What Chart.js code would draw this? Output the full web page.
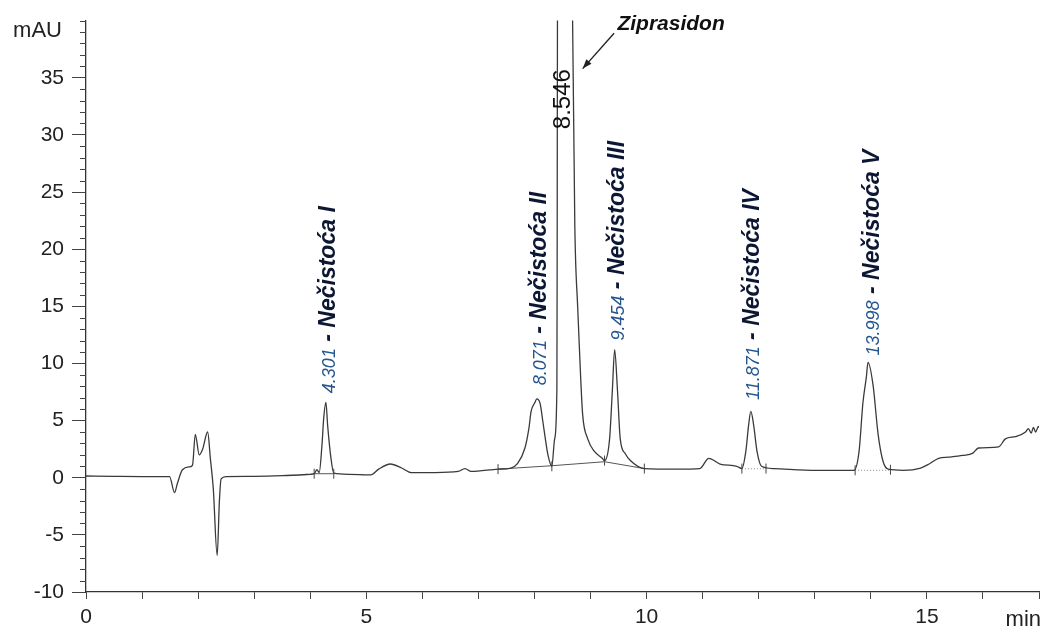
<!DOCTYPE html>
<html>
<head>
<meta charset="utf-8">
<script src="https://cdn.jsdelivr.net/npm/chart.js@4.4.1/dist/chart.umd.min.js"></script>
<style>
  html, body { margin: 0; padding: 0; background: #fff; }
  canvas { display: block; }
</style>
</head>
<body>
<canvas id="chroma" width="1045" height="628"></canvas>
<script>
// chromatogram trace (min / mAU)
const traceTime = [0, 0.5, 1.0, 1.49, 1.58, 1.63, 1.72, 1.85, 1.90, 1.95, 2.02, 2.08, 2.17, 2.22, 2.27, 2.34, 2.38, 2.41, 2.50,
  3.0, 3.5, 4.0, 4.07, 4.12, 4.16, 4.21, 4.24, 4.28, 4.31, 4.37, 4.42, 4.69, 5.08, 5.22, 5.43, 5.63, 5.80, 6.23, 6.64, 6.76, 6.87,
  7.35, 7.58, 7.70, 7.83, 7.90, 7.94, 8.01, 8.04, 8.10, 8.15, 8.20, 8.24, 8.31, 8.36, 8.40, 8.405, 8.41, 8.546, 8.68, 8.72, 8.77,
  8.82, 8.86, 8.95, 9.07, 9.21, 9.25, 9.34, 9.39, 9.43, 9.48, 9.53, 9.62, 9.71, 9.96, 10.54, 10.95, 11.11, 11.31, 11.61,
  11.70, 11.77, 11.82, 11.86, 11.91, 11.97, 12.05, 12.27, 13.03, 13.70, 13.79, 13.86, 13.92, 13.95, 14.04, 14.13, 14.22, 14.31,
  14.58, 14.89, 15.04, 15.21, 15.39, 15.64, 15.82, 15.92, 16.28, 16.40, 16.58, 16.76, 16.81, 16.86, 16.90, 16.94, 16.99, 17.0];
const traceAbs = [0.15, 0.12, 0.1, 0.1, -1.3, -0.5, 0.7, 0.95, 1.1, 3.8, 2.0, 2.5, 4.0, 1.6, -0.9, -6.8, -2.0, -0.1, 0.1,
  0.12, 0.18, 0.3, 0.35, 0.7, 0.45, 2.9, 5.2, 6.6, 4.6, 1.7, 0.4, 0.3, 0.25, 0.75, 1.2, 0.85, 0.45, 0.45, 0.55, 0.8, 0.55,
  0.75, 0.85, 1.25, 2.6, 4.3, 5.8, 6.6, 6.9, 6.5, 4.9, 3.2, 2.0, 1.0, 3.4, 7.8, 20, 40, 62, 40, 22, 15,
  9.2, 5.5, 3.4, 2.3, 1.7, 1.5, 3.4, 7.7, 11.2, 7.7, 3.4, 2.1, 1.5, 0.8, 0.75, 0.8, 1.7, 1.2, 1.0,
  0.8, 2.3, 4.6, 5.8, 4.6, 2.3, 1.0, 0.8, 0.65, 0.65, 2.3, 6.6, 8.8, 10.1, 8.1, 3.8, 1.4, 0.75,
  0.65, 0.85, 1.2, 1.7, 1.8, 1.95, 2.15, 2.6, 2.7, 3.4, 3.6, 4.0, 4.3, 3.9, 4.4, 4.0, 4.5, 4.4];

// integration baselines (solid) and dotted ones
const baseTime = [4.07, 4.42, 4.42, 7.35, 8.31, 9.25, 9.96];
const baseAbs = [0.35, 0.35, null, 0.75, 1.05, 1.4, 0.8];
const dotTime = [11.70, 12.13, 12.13, 13.72, 14.35];
const dotAbs = [0.78, 0.78, null, 0.65, 0.65];
const markTime = [4.07, 4.42, 7.35, 8.31, 9.25, 9.96, 11.70, 12.13, 13.72, 14.35];
const markAbs = [0.35, 0.35, 0.75, 1.0, 1.5, 0.8, 0.8, 0.8, 0.65, 0.7];

// peak annotations
const peakTimes = [4.301, 8.071, 9.454, 11.871, 13.998];
const peakNames = ['Nečistoća I', 'Nečistoća II', 'Nečistoća III', 'Nečistoća IV', 'Nečistoća V'];
const labelStart = [7.4, 8.1, 12.0, 6.8, 10.7];
const mainTime = 8.546;
const mainName = 'Ziprasidon';

const xTicks = [0, 5, 10, 15];
const yLabelTicks = [-10, -5, 0, 5, 10, 15, 20, 25, 30, 35];

const FONT = '"Liberation Sans", Arial, sans-serif';
const zip = (a, b) => a.map((v, i) => ({ x: v, y: b[i] }));

const annotations = {
  id: 'annotations',
  afterDraw(chart) {
    const { ctx, scales: { x, y }, chartArea } = chart;
    ctx.save();
    // minor y ticks
    ctx.strokeStyle = '#444';
    ctx.lineWidth = 1;
    for (let v = -10; v <= 40; v++) {
      if (yLabelTicks.includes(v)) continue;
      const py = Math.round(y.getPixelForValue(v)) + 0.5;
      ctx.beginPath();
      ctx.moveTo(chartArea.left - 6, py);
      ctx.lineTo(chartArea.left, py);
      ctx.stroke();
    }
    // axis units
    ctx.fillStyle = '#222';
    ctx.font = '22px ' + FONT;
    ctx.textAlign = 'right';
    ctx.textBaseline = 'alphabetic';
    ctx.fillText('mAU', 62, 37);
    ctx.fillText('min', 1041, 626);

    // rotated peak labels
    peakTimes.forEach((t, i) => {
      const px = x.getPixelForValue(t) + 8;
      const py = y.getPixelForValue(labelStart[i]);
      ctx.save();
      ctx.translate(px, py);
      ctx.rotate(-Math.PI / 2);
      ctx.textAlign = 'left';
      ctx.textBaseline = 'alphabetic';
      ctx.font = 'italic 18px ' + FONT;
      ctx.fillStyle = '#24558f';
      const num = t.toFixed(3);
      ctx.fillText(num, 0, 0);
      let off = ctx.measureText(num).width;
      ctx.font = 'italic bold 23px ' + FONT;
      ctx.fillStyle = '#0c1733';
      ctx.fillText(' - ' + peakNames[i], off, 0);
      ctx.restore();
    });

    // main peak retention time
    ctx.save();
    ctx.translate(x.getPixelForValue(mainTime) + 5, y.getPixelForValue(30.5));
    ctx.rotate(-Math.PI / 2);
    ctx.textAlign = 'left';
    ctx.font = '24px ' + FONT;
    ctx.fillStyle = '#111';
    ctx.fillText(mainTime.toFixed(3), 0, 0);
    ctx.restore();

    // main peak name + arrow
    ctx.font = 'italic bold 21px ' + FONT;
    ctx.fillStyle = '#111';
    ctx.textAlign = 'left';
    ctx.fillText(mainName, x.getPixelForValue(9.48), y.getPixelForValue(39.2));
    const ax0 = x.getPixelForValue(9.42), ay0 = y.getPixelForValue(38.9);
    const ax1 = x.getPixelForValue(8.86), ay1 = y.getPixelForValue(35.8);
    ctx.strokeStyle = '#222';
    ctx.lineWidth = 1.4;
    ctx.beginPath();
    ctx.moveTo(ax0, ay0);
    ctx.lineTo(ax1, ay1);
    ctx.stroke();
    const ang = Math.atan2(ay1 - ay0, ax1 - ax0);
    ctx.beginPath();
    ctx.moveTo(ax1, ay1);
    ctx.lineTo(ax1 - 10 * Math.cos(ang - 0.35), ay1 - 10 * Math.sin(ang - 0.35));
    ctx.lineTo(ax1 - 10 * Math.cos(ang + 0.35), ay1 - 10 * Math.sin(ang + 0.35));
    ctx.closePath();
    ctx.fillStyle = '#222';
    ctx.fill();
    ctx.restore();
  }
};

new Chart(document.getElementById('chroma'), {
  type: 'line',
  data: {
    datasets: [{
      data: zip(traceTime, traceAbs),
      borderColor: '#3a3a3a',
      borderWidth: 1.3,
      pointRadius: 0,
      cubicInterpolationMode: 'monotone',
      clip: 0
    }, {
      data: zip(baseTime, baseAbs),
      borderColor: '#555',
      borderWidth: 1,
      pointRadius: 0,
      spanGaps: false
    }, {
      data: zip(dotTime, dotAbs),
      borderColor: '#888',
      borderWidth: 1,
      borderDash: [1, 2],
      pointRadius: 0,
      spanGaps: false
    }, {
      data: zip(markTime, markAbs),
      showLine: false,
      pointStyle: 'line',
      rotation: 90,
      pointRadius: 5,
      pointBorderColor: '#444',
      pointBorderWidth: 1
    }]
  },
  options: {
    responsive: false,
    animation: false,
    events: [],
    layout: { padding: { top: 15, right: 1, left: 0, bottom: 0 } },
    plugins: { legend: { display: false }, tooltip: { enabled: false } },
    scales: {
      x: {
        type: 'linear',
        min: 0,
        max: 17,
        border: { display: true, color: '#333', width: 1.3 },
        grid: { drawOnChartArea: false, drawTicks: true, tickLength: 7, tickColor: '#444' },
        ticks: {
          stepSize: 1,
          autoSkip: false,
          maxRotation: 0,
          padding: 6,
          color: '#222',
          font: { size: 21, family: FONT },
          callback: v => xTicks.includes(v) ? String(v) : ''
        },
        afterFit: s => { s.height = 36; }
      },
      y: {
        min: -10,
        max: 40,
        border: { display: true, color: '#333', width: 1.3 },
        grid: {
          drawOnChartArea: false,
          drawTicks: true,
          tickLength: 14,
          tickColor: c => yLabelTicks.includes(c.tick.value) ? '#444' : 'rgba(0,0,0,0)'
        },
        ticks: {
          stepSize: 1,
          autoSkip: false,
          padding: 8,
          color: '#222',
          font: { size: 21, family: FONT },
          callback: v => yLabelTicks.includes(v) ? String(v) : ''
        },
        afterFit: s => { s.width = 86; }
      }
    }
  },
  plugins: [annotations]
});
</script>
</body>
</html>
